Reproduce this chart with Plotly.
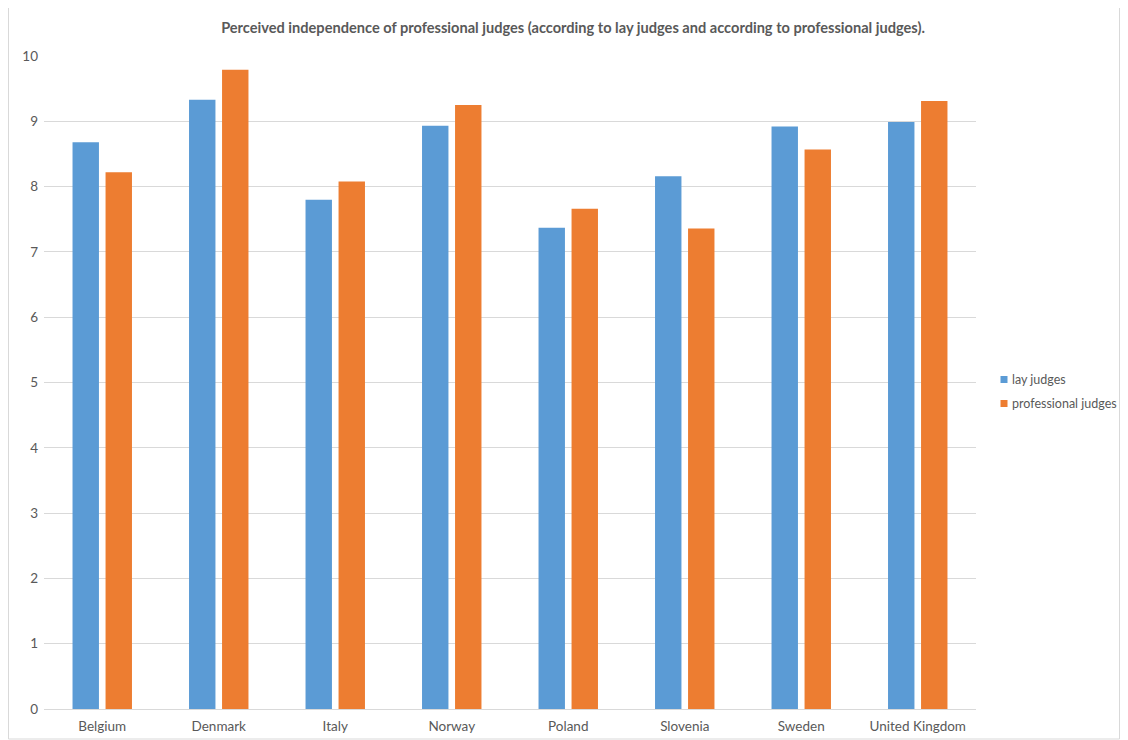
import plotly.graph_objects as go

countries = ["Belgium", "Denmark", "Italy", "Norway", "Poland", "Slovenia", "Sweden", "United Kingdom"]
lay_judges = [8.68, 9.33, 7.80, 8.93, 7.37, 8.16, 8.92, 8.99]
professional_judges = [8.22, 9.79, 8.08, 9.25, 7.66, 7.36, 8.57, 9.31]
y_ticks = [0, 1, 2, 3, 4, 5, 6, 7, 8, 9, 10]
series_names = ["lay judges", "professional judges"]
series_colors = ["#5B9BD5", "#ED7D31"]

title_text = "Perceived independence of professional judges (according to lay judges and according to professional judges)."

font_family = "Lato, Carlito, Calibri, sans-serif"
grey = "#595959"

# page is offset by the 8px body margin; work in figure coordinates
OFF = 8
W, H = 1112, 732
L, T = 44 - OFF, 56 - OFF
plot_right, plot_bottom = 976 - OFF, 709 - OFF
R, B = W - plot_right, H - plot_bottom
pw, ph = plot_right - L, plot_bottom - T

def px_x(p):
    return (p - OFF - L) / pw

def px_y(p):
    return (plot_bottom - (p - OFF)) / ph

fig = go.Figure()
for name, vals, col in zip(series_names, [lay_judges, professional_judges], series_colors):
    fig.add_trace(go.Bar(x=countries, y=vals, name=name, showlegend=False,
                         marker=dict(color=col, line=dict(width=0))))

# manual legend (small squares + text) placed to the right of the plot
legend_rows_y = [379.5, 403.5]
shapes = [dict(type="rect", xref="paper", yref="paper",
               x0=px_x(8.5), x1=px_x(1119.5), y0=px_y(739), y1=px_y(7),
               line=dict(color="#d9d9d9", width=1), fillcolor="rgba(0,0,0,0)",
               layer="below")]
annotations = []
for name, col, yy in zip(series_names, series_colors, legend_rows_y):
    shapes.append(dict(type="rect", xref="paper", yref="paper",
                       x0=px_x(1000.5), x1=px_x(1007.5), y0=px_y(yy + 3.5), y1=px_y(yy - 3.5),
                       line=dict(width=0), fillcolor=col))
    annotations.append(dict(text=name, xref="paper", yref="paper",
                            x=px_x(1010), y=px_y(yy), xanchor="left", yanchor="middle",
                            showarrow=False,
                            font=dict(family=font_family, size=12.5, color=grey)))

fig.update_layout(
    width=W, height=H,
    margin=dict(l=L, r=R, t=T, b=B, autoexpand=False),
    paper_bgcolor="white", plot_bgcolor="white",
    barmode="group", bargap=0.433, bargroupgap=0.2,
    showlegend=False,
    font=dict(family=font_family, color=grey, size=13.5),
    title=dict(text="<b>" + title_text + "</b>", x=px_x(573), xanchor="center",
               y=1 - (28 - OFF) / H, yanchor="middle", xref="paper",
               font=dict(family=font_family, size=14.6, color=grey)),
    xaxis=dict(showgrid=False, showline=True, linecolor="#d9d9d9", linewidth=1,
               ticks="", ticklabelstandoff=5,
               tickfont=dict(family=font_family, size=13.5, color=grey)),
    yaxis=dict(range=[0, 10], tickvals=y_ticks, showgrid=True, gridcolor="#d9d9d9",
               gridwidth=1, zeroline=False, showline=False, ticks="",
               ticklabelstandoff=5,
               tickfont=dict(family=font_family, size=13.5, color=grey)),
    shapes=shapes,
    annotations=annotations,
)

fig.write_html("out.html")
